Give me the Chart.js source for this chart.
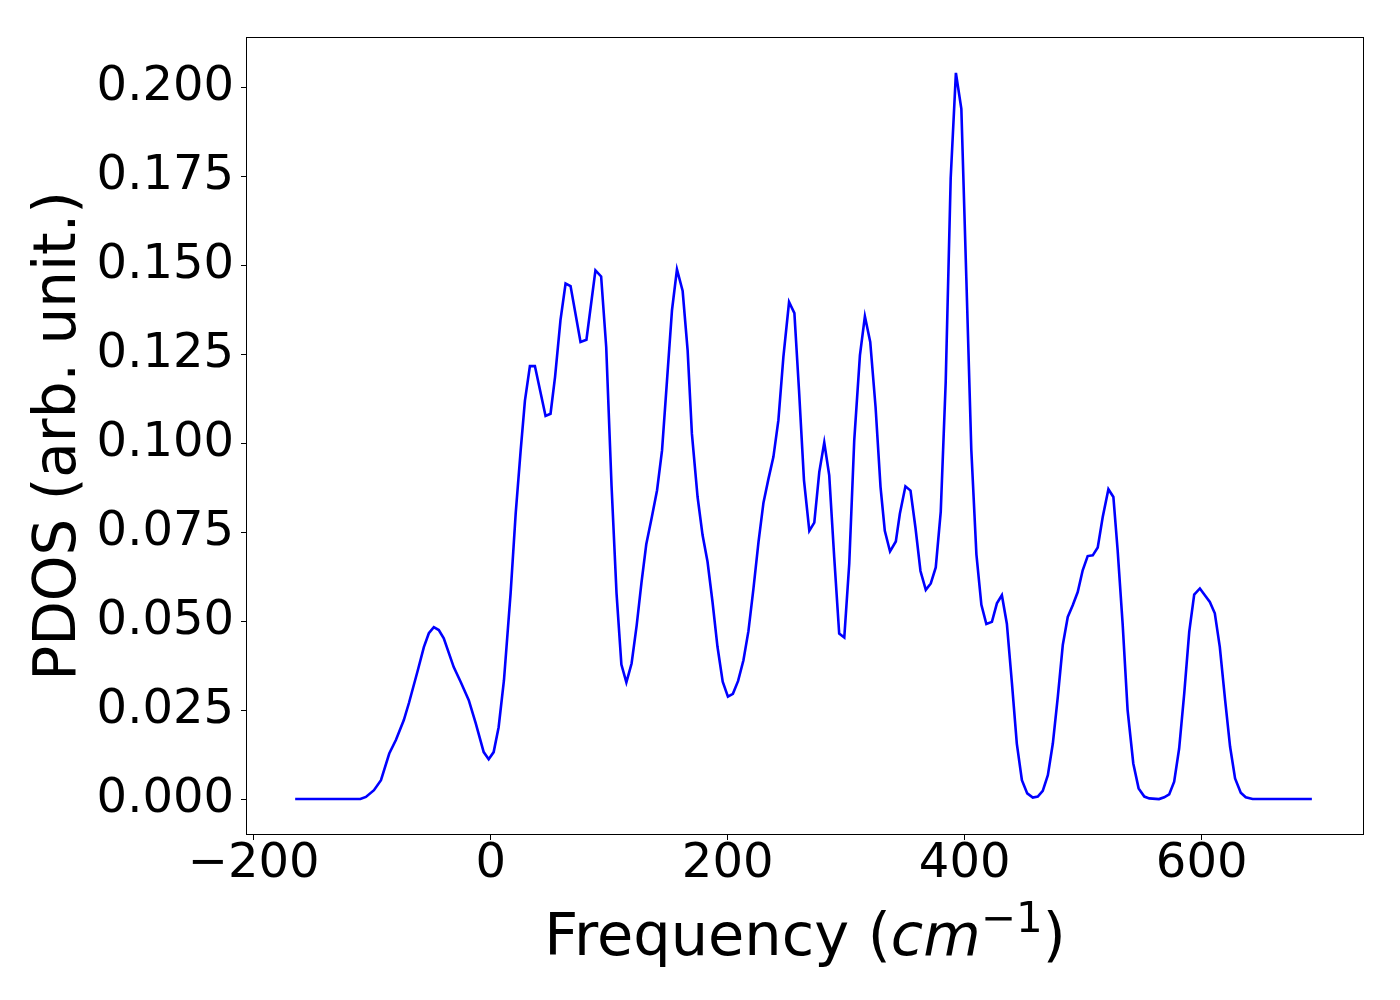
<!DOCTYPE html>
<html lang="en">
<head>
<meta charset="UTF-8">
<title>PDOS</title>
<script src="https://cdn.jsdelivr.net/npm/chart.js"></script>
<style>
  body { margin: 0; background: #fff; }
  canvas { display: block; }
</style>
</head>
<body>
<canvas id="pdosChart" width="1400" height="1000"></canvas>
<script>
// frequency (cm^-1) and PDOS values
const freq = [
  -165, -110, -105.3, -98.5, -92.6, -85.6, -80, -73.3, -69, -61.5, -56.4, -52.2, -48,
  -43.8, -39.6, -31.2, -25.3, -18.5, -12.6, -5.9, -1.7, 2.5, 6.7, 11.2, 16.8, 21.1,
  25.3, 28.9, 33.1, 37.3, 46.3, 50.5, 54.3, 58.9, 63.2, 67.4, 75.8, 80.8, 88.4, 93.2,
  97.5, 102, 106.2, 110.3, 114.5, 118.9, 123.2, 127.3, 131.3, 136, 140.4, 144.6, 148.8,
  153, 157.2, 162, 166.2, 169.8, 174.6, 178.8, 183, 187.2, 191.4, 195.8, 200.2, 204.4,
  208.8, 213.3, 217.5, 221.7, 226, 230.2, 234.4, 238.6, 242.8, 247, 251.8, 256.3, 260.2,
  264.4, 268.9, 273.1, 277.3, 281.5, 285.7, 289.9, 294.1, 298.4, 302.6, 306.8, 311.6,
  315.8, 320.3, 324.8, 329, 332.6, 337, 341.9, 345.3, 350, 354.3, 358.5, 362.7, 367.2,
  371.4, 375.6, 379.8, 384, 388.2, 392.6, 397.2, 401.4, 405.6, 409.9, 414.1, 418.3, 423,
  427.2, 431.4, 435.6, 439.9, 444, 448.3, 452.8, 457.5, 461.7, 465.9, 470.2, 474.4,
  478.6, 482.8, 487, 491.2, 495.4, 499.6, 503.8, 508.1, 512.3, 516.5, 521.3, 525.5,
  529.1, 533.3, 537.5, 542.3, 546.8, 551.6, 555.8, 564, 568.4, 572.6, 576.8, 581, 585.3,
  589.5, 593.7, 598.5, 602.7, 606.9, 611.1, 615.3, 619.8, 624, 628.2, 633, 637.2, 643, 693
];
const pdos = [
  0, 0, 0.0006, 0.0025, 0.0053, 0.0128, 0.0166, 0.0222, 0.027, 0.0362, 0.0427, 0.0466, 0.0483,
  0.0475, 0.0452, 0.0371, 0.0329, 0.0278, 0.0213, 0.0132, 0.0112, 0.0132, 0.0202, 0.0334, 0.0578, 0.0803,
  0.098, 0.112, 0.1217, 0.1217, 0.1077, 0.1083, 0.1186, 0.1346, 0.1449, 0.1442, 0.1285, 0.1291, 0.1486, 0.1469,
  0.127, 0.088, 0.0578, 0.0378, 0.0328, 0.0381, 0.0488, 0.061, 0.0716, 0.0793, 0.0868, 0.098, 0.1177,
  0.1374, 0.1489, 0.1428, 0.1261, 0.1027, 0.0849, 0.0742, 0.0667, 0.0554, 0.0428, 0.033, 0.0288, 0.0296,
  0.0332, 0.039, 0.0472, 0.059, 0.0722, 0.0833, 0.09, 0.0962, 0.1065, 0.1242, 0.1397, 0.1366, 0.1149,
  0.0896, 0.0754, 0.0777, 0.0919, 0.1002, 0.091, 0.068, 0.0465, 0.0454, 0.0662, 0.1008, 0.1247,
  0.1357, 0.1285, 0.1102, 0.0877, 0.0754, 0.0696, 0.0724, 0.0802, 0.0879, 0.0867, 0.0762, 0.0641, 0.0588,
  0.0606, 0.0651, 0.0807, 0.1173, 0.1745, 0.2041, 0.194, 0.1464, 0.0982, 0.0688, 0.0546, 0.0492, 0.0498,
  0.055, 0.0573, 0.0493, 0.0325, 0.0156, 0.0053, 0.0016, 0.0004, 0.0007, 0.0023, 0.0067, 0.0156,
  0.0287, 0.0433, 0.0512, 0.0545, 0.0582, 0.0643, 0.0683, 0.0685, 0.0707, 0.0793, 0.0871, 0.0849,
  0.0699, 0.0493, 0.025, 0.01, 0.003, 0.0007, 0.0002, 0, 0.0005, 0.0013, 0.0049, 0.0142, 0.0297,
  0.047, 0.0575, 0.0592, 0.0573, 0.0554, 0.0522, 0.0428, 0.0278, 0.0147, 0.0058, 0.0018, 0.0005, 0, 0
];
const xTicks = [-200, 0, 200, 400, 600];
const yTicks = [0, 0.025, 0.05, 0.075, 0.1, 0.125, 0.15, 0.175, 0.2];

const FONT = "'DejaVu Sans', sans-serif";

// box around the axes + x label with italic cm and superscript
const framePlugin = {
  id: 'frame',
  afterDraw(chart) {
    const ctx = chart.ctx;
    const a = chart.chartArea;
    ctx.save();
    ctx.strokeStyle = '#000';
    ctx.lineWidth = 1;
    ctx.strokeRect(a.left + 0.5, a.top + 0.5, a.right - a.left - 1, a.bottom - a.top - 1);

    const parts = [
      { t: 'Frequency (', f: "59px " + FONT, dy: 0 },
      { t: 'cm', f: "oblique 59px " + FONT, dy: 0 },
      { t: '\u22121', f: "42px " + FONT, dy: -23 },
      { t: ')', f: "59px " + FONT, dy: 0 }
    ];
    let total = 0;
    parts.forEach(p => { ctx.font = p.f; p.w = ctx.measureText(p.t).width; total += p.w; });
    let x = (a.left + a.right) / 2 - total / 2;
    const base = 955;
    ctx.fillStyle = '#000';
    ctx.textBaseline = 'alphabetic';
    ctx.textAlign = 'left';
    parts.forEach(p => { ctx.font = p.f; ctx.fillText(p.t, x, base + p.dy); x += p.w; });
    ctx.restore();
  }
};

const ctx = document.getElementById('pdosChart').getContext('2d');
new Chart(ctx, {
  type: 'line',
  data: {
    datasets: [{
      data: freq.map((f, i) => ({ x: f, y: pdos[i] })),
      borderColor: '#0000ff',
      borderWidth: 2.6,
      pointRadius: 0,
      tension: 0,
      fill: false
    }]
  },
  options: {
    responsive: false,
    devicePixelRatio: 1,
    animation: false,
    layout: { padding: { left: 0, right: 36, top: 37, bottom: 0 } },
    plugins: { legend: { display: false }, tooltip: { enabled: false } },
    scales: {
      x: {
        type: 'linear',
        min: -206.5,
        max: 737,
        afterBuildTicks: s => { s.ticks = xTicks.map(v => ({ value: v })); },
        afterFit: s => { s.height = 165; },
        border: { display: false },
        grid: { drawOnChartArea: false, drawTicks: true, tickLength: 5, color: '#000' },
        ticks: {
          color: '#000',
          padding: 1,
          maxRotation: 0,
          font: { family: FONT, size: 48, lineHeight: 1 },
          callback: v => v < 0 ? '\u2212' + Math.abs(v) : String(v)
        }
      },
      y: {
        min: -0.0101,
        max: 0.2142,
        afterBuildTicks: s => { s.ticks = yTicks.map(v => ({ value: v })); },
        afterFit: s => { s.width = 246; },
        border: { display: false },
        grid: { drawOnChartArea: false, drawTicks: true, tickLength: 5, color: '#000' },
        ticks: {
          color: '#000',
          padding: 7,
          font: { family: FONT, size: 48, lineHeight: 1 },
          callback: v => v.toFixed(3)
        },
        title: {
          display: true,
          text: 'PDOS (arb. unit.)',
          color: '#000',
          font: { family: FONT, size: 58 },
          padding: { top: 25, bottom: 0 }
        }
      }
    }
  },
  plugins: [framePlugin]
});
</script>
</body>
</html>
